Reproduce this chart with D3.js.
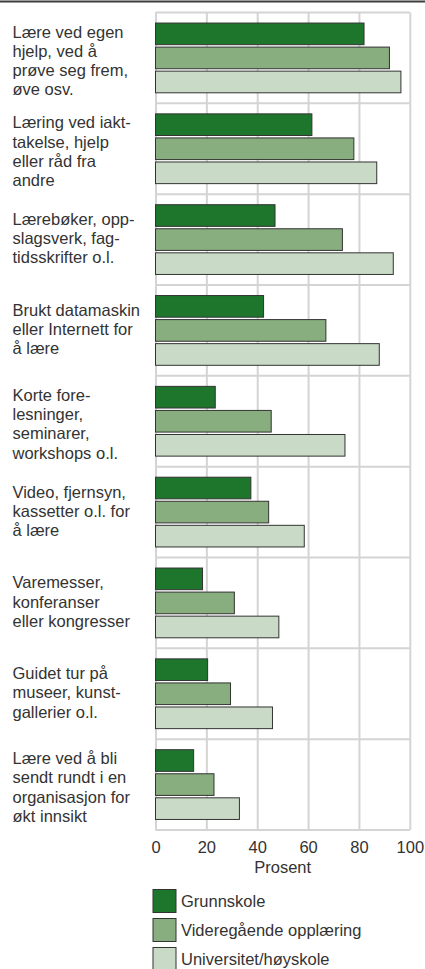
<!DOCTYPE html>
<html>
<head>
<meta charset="utf-8">
<script src="https://cdn.jsdelivr.net/npm/d3@7"></script>
<style>
  html, body { margin: 0; padding: 0; background: #fff; }
  svg { display: block; font-family: "Liberation Sans", Arial, sans-serif; }
</style>
</head>
<body>
<div id="chart"></div>
<script>
// Categories (label lines as printed in the source)
const categories = [
    ["Lære ved egen", "hjelp, ved å", "prøve seg frem,", "øve osv."],
    ["Læring ved iakt-", "takelse, hjelp", "eller råd fra", "andre"],
    ["Lærebøker, opp-", "slagsverk, fag-", "tidsskrifter o.l."],
    ["Brukt datamaskin", "eller Internett for", "å lære"],
    ["Korte fore-", "lesninger,", "seminarer,", "workshops o.l."],
    ["Video, fjernsyn,", "kassetter o.l. for", "å lære"],
    ["Varemesser,", "konferanser", "eller kongresser"],
    ["Guidet tur på", "museer, kunst-", "gallerier o.l."],
    ["Lære ved å bli", "sendt rundt i en", "organisasjon for", "økt innsikt"]
];

const seriesNames = ["Grunnskole", "Videregående opplæring", "Universitet/høyskole"];

// Percent per category, one array per series
const grunnskole  = [82, 61.5, 47, 42.5, 23.5, 37.5, 18.5, 20.5, 15];
const videregaende = [92, 78, 73.5, 67, 45.5, 44.5, 31, 29.5, 23];
const universitet = [96.5, 87, 93.5, 88, 74.5, 58.5, 48.5, 46, 33];

const xTicks = [0, 20, 40, 60, 80, 100];
const xLabel = "Prosent";

const W = 425, H = 969;
const plot = { left: 155.5, right: 409.8, top: 12.5, bottom: 830 };
const colors = ["#1e762d", "#88ad7e", "#c9dbc6"];
const textColor = "#333";
const fontSize = 16.5;
const lineH = 19.2;

const svg = d3.select("#chart").append("svg")
    .attr("width", W)
    .attr("height", H);

// Rule across the top
svg.append("line")
    .attr("x1", 0).attr("x2", W)
    .attr("y1", 1.5).attr("y2", 1.5)
    .attr("stroke", "#3c3c3c")
    .attr("stroke-width", 2);

const x = d3.scaleLinear().domain([0, 100]).range([plot.left, plot.right]);
const keys = categories.map((c, i) => i);
const y = d3.scaleBand().domain(keys).range([plot.top, plot.bottom]);
const y1 = d3.scaleBand().domain(seriesNames)
    .range([0, y.bandwidth()])
    .paddingInner(0.1)
    .paddingOuter(0.438);

// Vertical gridlines
svg.append("g")
    .attr("transform", `translate(0,${plot.bottom})`)
    .call(d3.axisBottom(x).tickValues(xTicks).tickSize(-(plot.bottom - plot.top)).tickFormat(""))
    .call(g => g.select(".domain").remove())
    .call(g => g.selectAll("line").attr("stroke", "#d4d4d4").attr("stroke-width", 2));

// Horizontal separators between categories
const bounds = keys.map(k => y(k)).concat([plot.bottom]);
svg.append("g").selectAll("line")
    .data(bounds)
    .join("line")
    .attr("x1", plot.left).attr("x2", plot.right)
    .attr("y1", d => d).attr("y2", d => d)
    .attr("stroke", "#d4d4d4")
    .attr("stroke-width", 2);

// Bars
const rows = keys.map(i => ({
    i: i,
    values: [grunnskole[i], videregaende[i], universitet[i]]
}));

const groups = svg.append("g").selectAll("g")
    .data(rows)
    .join("g")
    .attr("transform", d => `translate(0,${y(d.i)})`);

groups.selectAll("rect")
    .data(d => d.values.map((v, s) => ({ v: v, s: s })))
    .join("rect")
    .attr("x", x(0))
    .attr("y", d => y1(seriesNames[d.s]))
    .attr("width", d => x(d.v) - x(0))
    .attr("height", y1.bandwidth())
    .attr("fill", d => colors[d.s])
    .attr("stroke", "#333")
    .attr("stroke-width", 1);

// Category labels
const labels = svg.append("g").selectAll("text")
    .data(rows)
    .join("text")
    .attr("fill", textColor)
    .style("font-size", fontSize + "px")
    .attr("transform", d => {
        const n = categories[d.i].length;
        const mid = y(d.i) + y.bandwidth() / 2 + (n === 4 ? 8.5 : 4.7);
        const first = mid - (n - 1) * lineH / 2;
        return `translate(12.5,${first})`;
    });

labels.selectAll("tspan")
    .data(d => categories[d.i])
    .join("tspan")
    .attr("x", 0)
    .attr("y", (d, i) => i * lineH)
    .text(d => d);

// X axis tick labels
svg.append("g")
    .attr("transform", `translate(0,${plot.bottom})`)
    .call(d3.axisBottom(x).tickValues(xTicks).tickSize(0).tickPadding(11.3))
    .call(g => g.select(".domain").remove())
    .call(g => g.selectAll("text")
        .attr("fill", textColor)
        .style("font-size", fontSize + "px")
        .style("font-family", "\"Liberation Sans\", Arial, sans-serif"));

svg.append("text")
    .attr("x", (plot.left + plot.right) / 2)
    .attr("y", 873)
    .attr("text-anchor", "middle")
    .attr("fill", textColor)
    .style("font-size", fontSize + "px")
    .text(xLabel);

// Legend
const legend = svg.append("g").selectAll("g")
    .data(seriesNames)
    .join("g")
    .attr("transform", (d, i) => `translate(153,${889.5 + i * 29})`);

legend.append("rect")
    .attr("width", 23)
    .attr("height", 23)
    .attr("fill", (d, i) => colors[i])
    .attr("stroke", "#333")
    .attr("stroke-width", 1);

legend.append("text")
    .attr("x", 28)
    .attr("y", 17.4)
    .attr("fill", textColor)
    .style("font-size", fontSize + "px")
    .text(d => d);
</script>
</body>
</html>
